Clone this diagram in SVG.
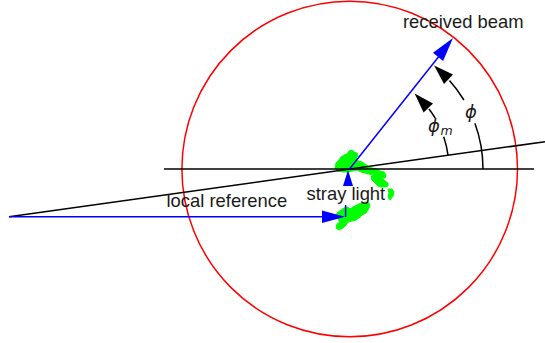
<svg xmlns="http://www.w3.org/2000/svg" width="545" height="343" viewBox="0 0 545 343">
<style>
.blk{stroke:#000;stroke-width:1.5;fill:none}
.blu{stroke:#0000ff;stroke-width:1.5;fill:none}
.bhead{fill:#0000ff;stroke:none}
.khead{fill:#000;stroke:none}
.lbl{font-family:"Liberation Sans",Arial,sans-serif;font-size:18.4px;fill:#1a1a1a}
.gr{font-family:"DejaVu Sans","Liberation Sans",sans-serif;font-style:italic;fill:#1a1a1a}
.green{fill:#00ff00;stroke:#00ff00;stroke-width:1;stroke-linejoin:miter}
</style>
<rect width="545" height="343" fill="#fff"/>
<g id="circle">
<circle cx="349.7" cy="169" r="167.8" fill="none" stroke="#ff0000" stroke-width="1.5"/>
</g>
<g id="stray-light-cloud">
<polygon class="green" points="336,163 339,160 341,157 344,155 347,154 349,151 352,150 354,152 357,153 358,156 356,158 358,161 362,162 365,164 368,166 372,168 376,169 380,171 384,172 386,175 385,178 381,178 377,176 373,175 369,174 365,173 361,172 357,170 352,171 348,172 343,172 338,171 335,168"/>
<polygon class="green" points="371,176 375,175 378,177 382,178 385,181 388,183 388,186 385,187 381,187 378,186 375,183 372,180"/>
<polygon class="green" points="388,189 392,189 394,192 393,196 390,200 388,197 389,193"/>
<polygon class="green" points="337,213 341,210 344,208 348,207 350,209 353,207 357,205 361,203 365,202 369,203 370,206 368,210 366,213 362,215 359,218 356,220 352,221 348,222 346,225 343,228 339,230 336,228 337,224 340,222 338,219 336,217"/>
</g>
<g id="connectors">
<line class="blk" x1="164" y1="169" x2="534" y2="169"/>
<line class="blk" x1="9" y1="216.7" x2="545" y2="141.7"/>
<line class="blu" x1="9" y1="216.7" x2="330" y2="216.7"/>
<polygon class="bhead" points="345,216.7 322,210.4 322,223"/>
<line class="blu" x1="345.6" y1="205" x2="345.6" y2="217"/>
<polygon class="bhead" points="348,170 343,186 353,186"/>
<line class="blu" x1="349.3" y1="169.3" x2="440" y2="55"/>
<polygon class="bhead" points="453,38 443.1,60.9 433,52.8"/>
<path class="blk" d="M483,169 A134,134 0 0 0 474.9,123.2"/>
<path class="blk" d="M463.9,100 A134,134 0 0 0 449.5,80.5"/>
<polygon class="khead" points="434.1,65.5 453,74.6 444,84"/>
<path class="blk" d="M448,155.1 A100,100 0 0 0 443.7,136.8"/>
<path class="blk" d="M435.2,118.2 A100,100 0 0 0 429,109"/>
<polygon class="khead" points="414.6,93.5 433,103.6 423.6,112.6"/>
</g>
<g id="labels">
<text class="lbl" x="403" y="28.3">received beam</text>
<text class="lbl" x="166.5" y="206.7">local reference</text>
<text class="lbl" x="306.5" y="199.5">stray light</text>
<text class="gr" x="465" y="118" font-size="18">ϕ</text>
<text class="gr" x="428" y="131.5" font-size="18">ϕ</text>
<text class="gr" x="440.5" y="135.3" font-size="12.5">m</text>
</g>
</svg>
